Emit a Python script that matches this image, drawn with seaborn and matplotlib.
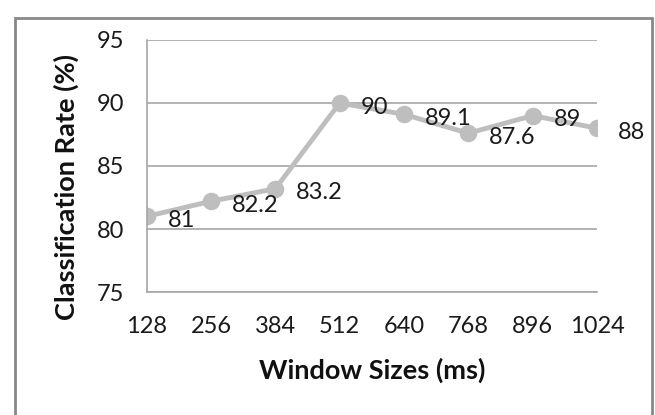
import matplotlib
matplotlib.use("Agg")
import matplotlib.pyplot as plt
from matplotlib.patches import Rectangle
import seaborn as sns

# data
window_sizes = ["128", "256", "384", "512", "640", "768", "896", "1024"]
rates = [81, 82.2, 83.2, 90, 89.1, 87.6, 89, 88]

sns.set_style("white")
plt.rcParams["font.family"] = ["Lato", "DejaVu Sans"]

fig = plt.figure(figsize=(6.55, 4.15), dpi=100)
ax = fig.add_axes([146.7 / 655, 1 - 292 / 415, (597 - 146.7) / 655, (292 - 40) / 415])

line_col = "#BEBEBE"
grid_col = "#A6A6A6"

sns.pointplot(x=window_sizes, y=rates, color=line_col, markers="o",
              markersize=10, linewidth=3.5, ax=ax)

# data labels right of each point
for i, v in enumerate(rates):
    ax.annotate("{:g}".format(v), (i, v), xytext=(15, -3), textcoords="offset points",
                ha="left", va="center", fontsize=17, color="#1a1a1a")

ax.set_xlim(0, len(window_sizes) - 1)
ax.set_ylim(75, 95)
ax.set_yticks([75, 80, 85, 90, 95])
ax.yaxis.grid(True, color=grid_col, linewidth=1.2)
ax.xaxis.grid(False)
ax.set_axisbelow(True)

for s in ["top", "right"]:
    ax.spines[s].set_visible(False)
for s in ["left", "bottom"]:
    ax.spines[s].set_color(grid_col)
    ax.spines[s].set_linewidth(1.2)

ax.tick_params(axis="both", which="major", direction="out", length=6, width=1.2,
               color=grid_col, labelsize=17, labelcolor="#1a1a1a")
ax.tick_params(axis="x", pad=11)
ax.tick_params(axis="y", pad=10)

ax.set_xlabel("Window Sizes (ms)", fontsize=19.5, fontweight="bold", color="#111111")
ax.set_ylabel("Classification Rate (%)", fontsize=19.5, fontweight="bold", color="#111111")
ax.xaxis.set_label_coords(0.5, -0.26)
ax.yaxis.set_label_coords(-0.15, 0.415)

# outer chart border
fig.add_artist(Rectangle((15 / 655, -0.1), (652 - 15) / 655, 1.078 - 9 / 415,
                         transform=fig.transFigure, fill=False,
                         edgecolor="#888888", linewidth=2))

fig.savefig("out.png", dpi=100)
